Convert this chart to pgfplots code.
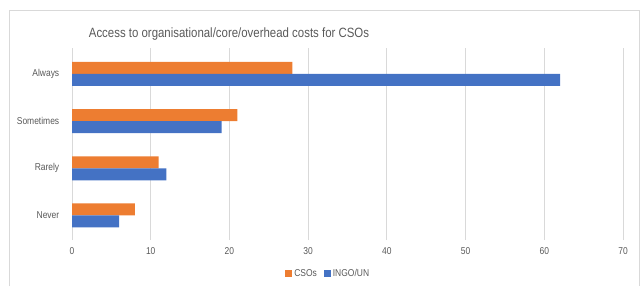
\documentclass[border=0pt]{standalone}
\usepackage{pgfplots}
\pgfplotsset{compat=1.18}
\usepackage{fontspec}
\setmainfont{Liberation Sans}[FakeStretch=0.85]
\definecolor{txt}{HTML}{595959}
\definecolor{gridc}{HTML}{D9D9D9}
\definecolor{cso}{HTML}{ED7D31}
\definecolor{ingo}{HTML}{4472C4}
\begin{document}
\begin{tikzpicture}[x=1bp,y=1bp]
\useasboundingbox (0,0) rectangle (641,286);
\draw[gridc,line width=0.8bp] (9.5,0) -- (9.5,275.5) -- (639.5,275.5) -- (639.5,0);
\node[text=txt,font=\fontsize{13.5}{16}\selectfont] at (229,252) {Access to organisational/core/overhead costs for CSOs};
\begin{axis}[
  at={(72bp,46bp)}, anchor=south west,
  width=551bp, height=192bp, scale only axis,
  xbar, bar width=12bp,
  xmin=0, xmax=70, xtick={0,10,...,70},
  ymin=-0.52, ymax=3.55,
  ytick={0,1,2,3}, yticklabels={Never,Rarely,Sometimes,Always},
  axis line style={draw=none},
  xtick style={draw=none}, ytick style={draw=none},
  xmajorgrids=true, ymajorgrids=false,
  x grid style={draw=gridc,line width=0.8bp},
  tick label style={text=txt,font=\fontsize{10}{12}\selectfont},
  xticklabel style={yshift=-4bp},
  yticklabel style={xshift=-5bp},
  /pgf/number format/assume math mode=true,
  legend columns=2,
  legend style={draw=none, fill=none, at={(0.465,-0.177)}, anchor=center,
    font=\fontsize{10}{12}\selectfont, text=txt,
    /tikz/every even column/.append style={column sep=5bp}},
  legend image code/.code={\fill[#1] (0bp,-3.5bp) rectangle (7bp,3.5bp);},
]
\addplot[fill=cso, draw=none, bar shift=6bp] coordinates {(8,0) (11,1) (21,2) (28,3)};
\addplot[fill=ingo, draw=none, bar shift=-6bp] coordinates {(6,0) (12,1) (19,2) (62,3)};
\legend{CSOs,INGO/UN}
\end{axis}
\end{tikzpicture}
\end{document}
